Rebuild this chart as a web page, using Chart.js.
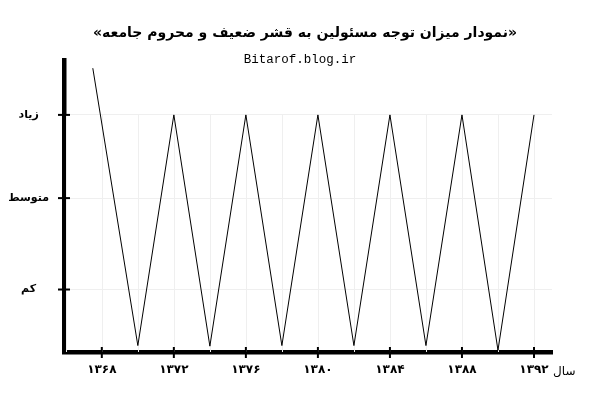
<!DOCTYPE html>
<html>
<head>
<meta charset="utf-8">
<script src="https://cdn.jsdelivr.net/npm/chart.js@4/dist/chart.umd.min.js"></script>
<style>
  body { margin: 0; background: #fff; }
  canvas { display: block; }
</style>
</head>
<body>
<canvas id="chart" width="599" height="395"></canvas>
<script>
// Data
const years = [1367.5, 1370, 1372, 1374, 1376, 1378, 1380, 1382, 1384, 1386, 1388, 1390, 1392];
const levels = [9.72, 0.22, 8.12, 0.2, 8.12, 0.22, 8.12, 0.22, 8.12, 0.22, 8.12, 0.06, 8.12];

const labelYears = [1368, 1372, 1376, 1380, 1384, 1388, 1392];
const gridYears = [1366, 1368, 1370, 1372, 1374, 1376, 1378, 1380, 1382, 1384, 1386, 1388, 1390, 1392];
const levelTicks = [2.14, 5.27, 8.12];
const levelLabels = ["کم", "متوسط", "زیاد"];

const titleText = "«نمودار میزان توجه مسئولین به قشر ضعیف و محروم جامعه»";
const subtitleText = "Bitarof.blog.ir";
const xAxisTitle = "سال";

const faDigits = "۰۱۲۳۴۵۶۷۸۹";
function toFa(n) {
  return String(n).replace(/[0-9]/g, (d) => faDigits[d]);
}

// grid, crossing tick marks and texts
const decorations = {
  id: "decorations",
  beforeDatasetsDraw(chart) {
    const { ctx, chartArea, scales } = chart;
    const gridTop = scales.y.getPixelForValue(levelTicks[levelTicks.length - 1]);
    ctx.save();
    ctx.strokeStyle = "#efefef";
    ctx.lineWidth = 1;
    gridYears.forEach((v) => {
      const px = Math.round(scales.x.getPixelForValue(v)) + 0.5;
      ctx.beginPath();
      ctx.moveTo(px, gridTop);
      ctx.lineTo(px, chartArea.bottom);
      ctx.stroke();
    });
    ctx.restore();
  },
  afterDraw(chart) {
    const { ctx, chartArea, scales } = chart;
    ctx.save();
    ctx.strokeStyle = "#000";
    ctx.lineWidth = 2;
    labelYears.forEach((v) => {
      const px = scales.x.getPixelForValue(v);
      ctx.beginPath();
      ctx.moveTo(px, chartArea.bottom - 5);
      ctx.lineTo(px, chartArea.bottom + 6);
      ctx.stroke();
    });
    levelTicks.forEach((v) => {
      const py = scales.y.getPixelForValue(v);
      ctx.beginPath();
      ctx.moveTo(chartArea.left - 6, py);
      ctx.lineTo(chartArea.left + 6, py);
      ctx.stroke();
    });

    ctx.fillStyle = "#000";
    ctx.textAlign = "center";
    ctx.textBaseline = "middle";
    ctx.direction = "rtl";
    ctx.font = 'bold 14px "DejaVu Sans"';
    ctx.fillText(titleText, 305, 33);

    ctx.direction = "ltr";
    ctx.font = '12.5px "Liberation Mono"';
    ctx.fillText(subtitleText, 300, 60);

    ctx.direction = "rtl";
    ctx.textAlign = "left";
    ctx.font = '12px "DejaVu Sans"';
    ctx.fillText(xAxisTitle, chartArea.right + 1, 372);
    ctx.restore();
  },
};

new Chart(document.getElementById("chart"), {
  type: "line",
  data: {
    datasets: [
      {
        data: years.map((yr, i) => ({ x: yr, y: levels[i] })),
        borderColor: "#000",
        borderWidth: 1,
        pointRadius: 0,
        tension: 0,
      },
    ],
  },
  options: {
    responsive: false,
    animation: false,
    layout: { padding: { top: 60, right: 47, left: 0, bottom: 0 } },
    plugins: { legend: { display: false }, tooltip: { enabled: false } },
    scales: {
      x: {
        type: "linear",
        min: 1365.9,
        max: 1393,
        afterFit: (scale) => { scale.height = 43; },
        afterBuildTicks: (scale) => { scale.ticks = labelYears.map((v) => ({ value: v })); },
        grid: { display: false, drawTicks: false },
        border: { display: true, color: "#000", width: 4.5 },
        ticks: {
          padding: 11,
          color: "#000",
          font: { family: "DejaVu Sans", size: 12, weight: "bold" },
          callback: (v) => toFa(v),
        },
      },
      y: {
        min: 0,
        max: 10,
        afterFit: (scale) => { scale.width = 64; },
        afterBuildTicks: (scale) => { scale.ticks = levelTicks.map((v) => ({ value: v })); },
        grid: { color: "#efefef", drawTicks: false },
        border: { display: true, color: "#000", width: 4.5 },
        ticks: {
          padding: 15,
          crossAlign: "center",
          color: "#000",
          font: { family: "DejaVu Sans", size: 11, weight: "bold" },
          callback: (v, i) => levelLabels[i],
        },
      },
    },
  },
  plugins: [decorations],
});
</script>
</body>
</html>
